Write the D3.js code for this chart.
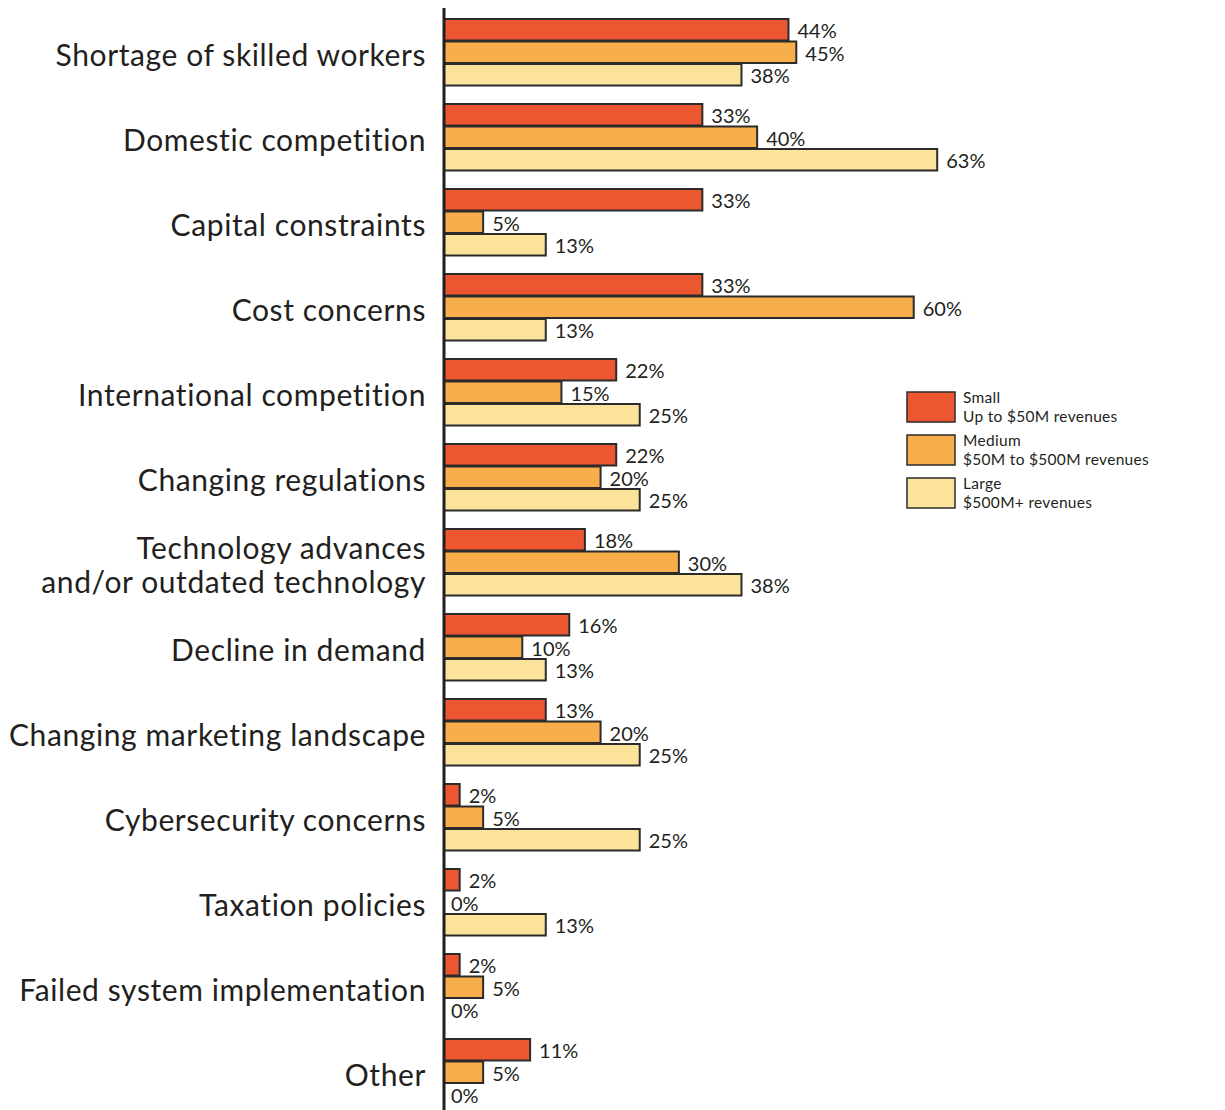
<!DOCTYPE html>
<html>
<head>
<meta charset="utf-8">
<script src="https://cdn.jsdelivr.net/npm/d3@7"></script>
<style>
  html, body { margin: 0; padding: 0; background: #ffffff; }
  svg { display: block; font-family: Lato, "Open Sans", sans-serif; }
</style>
</head>
<body>
<svg id="chart" width="1225" height="1110"></svg>
<script>
// Challenges by company size (share of respondents, %)
const categories = [
  "Shortage of skilled workers",
  "Domestic competition",
  "Capital constraints",
  "Cost concerns",
  "International competition",
  "Changing regulations",
  "Technology advances\nand/or outdated technology",
  "Decline in demand",
  "Changing marketing landscape",
  "Cybersecurity concerns",
  "Taxation policies",
  "Failed system implementation",
  "Other"
];
const seriesKeys = ["small", "medium", "large"];
const small  = [44, 33, 33, 33, 22, 22, 18, 16, 13,  2,  2, 2, 11];
const medium = [45, 40,  5, 60, 15, 20, 30, 10, 20,  5,  0, 5,  5];
const large  = [38, 63, 13, 13, 25, 25, 38, 13, 25, 25, 13, 0,  0];
const legendTitles = ["Small", "Medium", "Large"];
const legendSubtitles = ["Up to $50M revenues", "$50M to $500M revenues", "$500M+ revenues"];
const colors = ["#ec5731", "#f8ae4b", "#fce39c"];

const seriesValues = { small, medium, large };
const rows = categories.map((c, i) => ({
  category: c,
  values: seriesKeys.map(k => ({ key: k, value: seriesValues[k][i] }))
}));

const svg = d3.select("#chart");
const axisX = 444;
const ink = "#231f20";

const x = d3.scaleLinear().domain([0, 70]).range([axisX, axisX + 548]);

const groupStep = 85, groupGap = 17.5, plotTop = 18;
const y0 = d3.scaleBand()
  .domain(categories)
  .range([plotTop, plotTop + categories.length * groupStep - groupGap])
  .paddingInner(groupGap / groupStep)
  .paddingOuter(0);
const y1 = d3.scaleBand()
  .domain(seriesKeys)
  .range([0, y0.bandwidth()])
  .padding(0);
const color = d3.scaleOrdinal().domain(seriesKeys).range(colors);

// Bars and value labels
const groups = svg.append("g").selectAll("g")
  .data(rows)
  .join("g")
  .attr("transform", d => `translate(0,${y0(d.category)})`);

groups.selectAll("rect")
  .data(d => d.values.filter(v => v.value > 0))
  .join("rect")
  .attr("x", x(0))
  .attr("y", d => y1(d.key) + 1)
  .attr("width", d => x(d.value) - x(0))
  .attr("height", y1.bandwidth() - 1)
  .attr("fill", d => color(d.key))
  .attr("stroke", "#2b2b2b")
  .attr("stroke-width", 2);

groups.selectAll("text.value")
  .data(d => d.values)
  .join("text")
  .attr("class", "value")
  .attr("x", d => x(d.value) + (d.value > 0 ? 9 : 7))
  .attr("y", d => y1(d.key) + y1.bandwidth() - 2.5)
  .attr("font-size", 20)
  .attr("fill", ink)
  .text(d => d.value + "%");

// Category labels
const labels = svg.append("g").selectAll("text")
  .data(categories)
  .join("text")
  .attr("text-anchor", "end")
  .attr("font-size", 30)
  .attr("letter-spacing", 0.6)
  .attr("fill", ink);
const lineH = 33.5;
labels.each(function(c) {
  const lines = c.split("\n");
  const cy = y0(c) + y0.bandwidth() / 2 + 14 - (lines.length - 1) * lineH / 2;
  d3.select(this).selectAll("tspan")
    .data(lines)
    .join("tspan")
    .attr("x", 426)
    .attr("y", (l, i) => cy + i * lineH)
    .text(l => l);
});

// Vertical axis line
svg.append("line")
  .attr("x1", axisX).attr("x2", axisX)
  .attr("y1", 8).attr("y2", 1110)
  .attr("stroke", ink)
  .attr("stroke-width", 3);

// Legend
const legend = svg.append("g").attr("transform", "translate(907,392)");
const items = legend.selectAll("g")
  .data(seriesKeys)
  .join("g")
  .attr("transform", (d, i) => `translate(0,${i * 43})`);
items.append("rect")
  .attr("width", 48).attr("height", 30)
  .attr("fill", d => color(d))
  .attr("stroke", "#2b2b2b")
  .attr("stroke-width", 1.5);
items.append("text")
  .attr("x", 56).attr("y", 11)
  .attr("font-size", 15.5).attr("letter-spacing", 0.3).attr("fill", ink)
  .text((d, i) => legendTitles[i]);
items.append("text")
  .attr("x", 56).attr("y", 30)
  .attr("font-size", 15.5).attr("letter-spacing", 0.3).attr("fill", ink)
  .text((d, i) => legendSubtitles[i]);
</script>
</body>
</html>
